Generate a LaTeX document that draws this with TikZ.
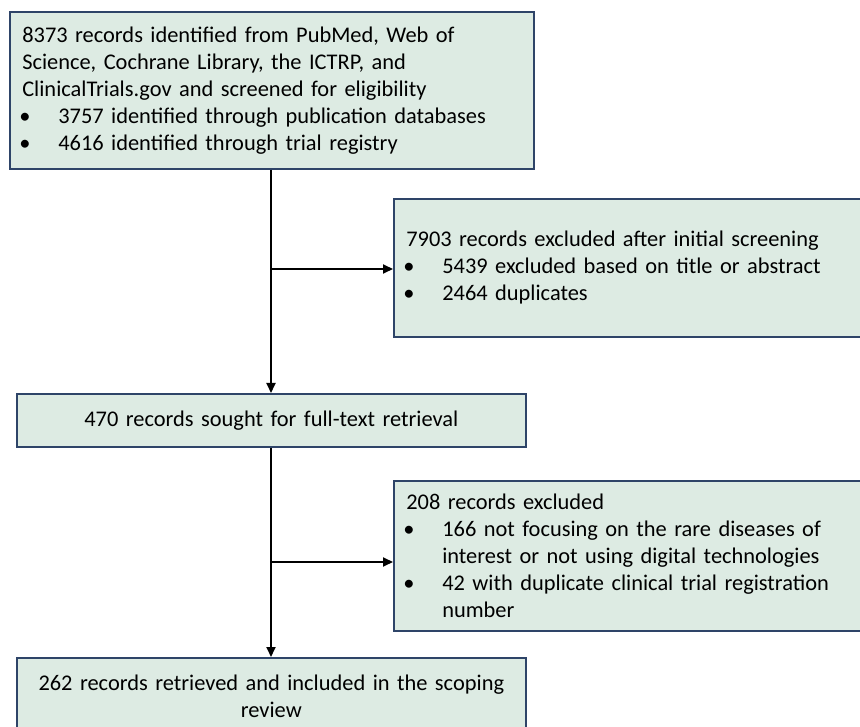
\documentclass[tikz,border=0pt]{standalone}
\usepackage{fontspec}
\setmainfont{Carlito}
\usetikzlibrary{arrows.meta}
\definecolor{boxfill}{HTML}{DDEBE3}
\definecolor{boxline}{HTML}{2E4468}
\newcommand{\bl}{\makebox[36pt][l]{\hspace{-3pt}•}}
\newcommand{\hg}{\hspace*{36pt}}
\begin{document}
\begin{tikzpicture}[x=1pt,y=-1pt,
  flowbox/.style={draw=boxline,fill=boxfill,line width=1.6pt,
    font=\fontsize{22.4}{27}\selectfont,inner xsep=12.5pt,inner ysep=0pt,anchor=north west},
  conn/.style={line width=1.8pt,-{Triangle[length=10pt,width=9pt]}}]
\useasboundingbox (0,0) rectangle (860,727);
\clip (0,0) rectangle (860,727);
\node[flowbox,text width=499pt,minimum height=157pt,align=left] (ident) at (9,11)
  {8373 records identified from PubMed, Web of\\
   Science, Cochrane Library, the ICTRP, and\\
   ClinicalTrials.gov and screened for eligibility\\
   \bl3757 identified through publication databases\\
   \bl4616 identified through trial registry};
\node[flowbox,text width=500pt,minimum height=138pt,align=left] (excl1) at (393,198)
  {7903 records excluded after initial screening\\
   \bl5439 excluded based on title or abstract\\
   \bl2464 duplicates};
\node[flowbox,text width=484pt,minimum height=53pt,align=center] (sought) at (16,393)
  {470 records sought for full-text retrieval};
\node[flowbox,text width=500pt,minimum height=150pt,align=left] (excl2) at (393,480)
  {208 records excluded\\
   \bl166 not focusing on the rare diseases of\\
   \hg interest or not using digital technologies\\
   \bl42 with duplicate clinical trial registration\\
   \hg number};
\node[flowbox,text width=484pt,minimum height=76pt,align=center] (incl) at (16,657)
  {262 records retrieved and included in the scoping\\ review};
\coordinate (j1) at (271,269);
\coordinate (j2) at (271,562);
\draw[conn] (ident.south -| j1) -- (sought.north -| j1);
\draw[conn] (j1) -- (excl1.west |- j1);
\draw[conn] (sought.south -| j2) -- (incl.north -| j2);
\draw[conn] (j2) -- (excl2.west |- j2);
\end{tikzpicture}
\end{document}
